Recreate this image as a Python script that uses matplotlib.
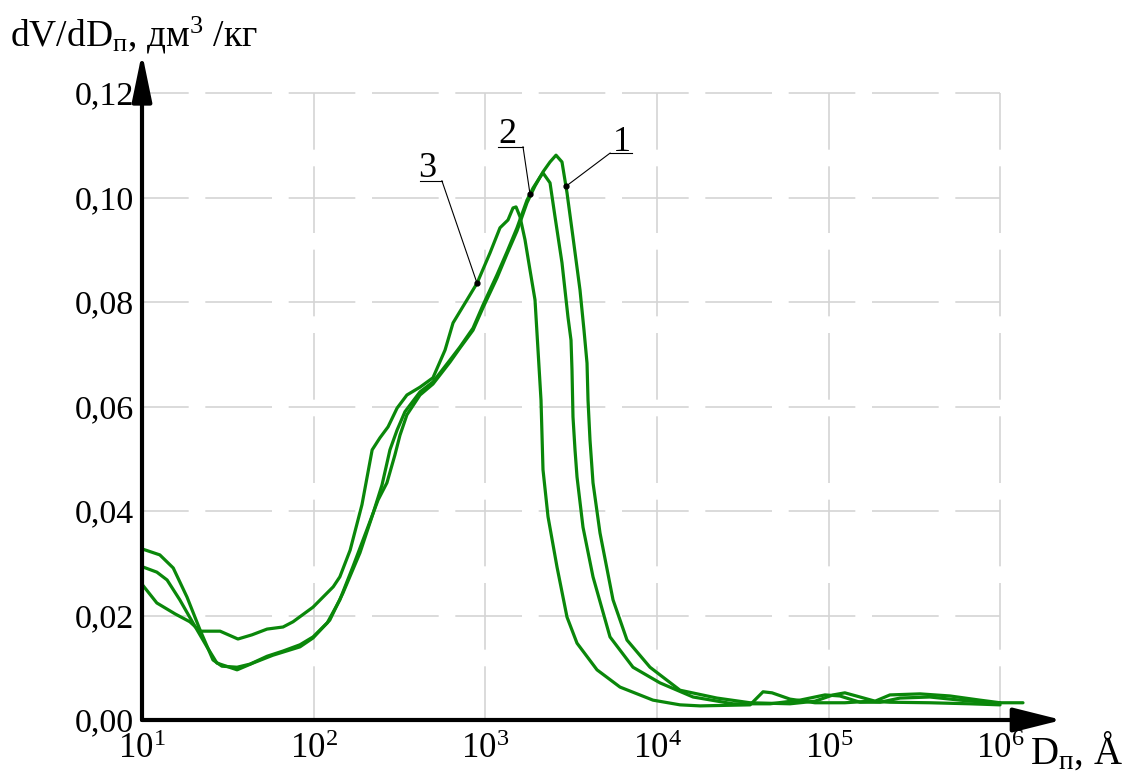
import matplotlib
matplotlib.use("Agg")
import matplotlib.pyplot as plt
import numpy as np

plt.rcParams["font.family"] = ["Liberation Serif", "DejaVu Serif"]
plt.rcParams["mathtext.fontset"] = "custom"
plt.rcParams["mathtext.rm"] = "Liberation Serif"
plt.rcParams["mathtext.it"] = "Liberation Serif:italic"
plt.rcParams["mathtext.bf"] = "Liberation Serif:bold"

# pore diameter, Å  /  dV/dD, dm3/kg
d_1 = [10.1, 12.7, 15.2, 18.3, 21.8, 25.9, 29.2, 35.8, 42.6, 53.5, 66.3, 83.2,
       99.1, 120, 142, 169, 204, 237, 267, 297, 318, 349, 416, 495, 622, 711,
       847, 968, 1168, 1336, 1528, 1747, 1945, 2165, 2379, 2578, 2793, 2987,
       3237, 3556, 3752, 3907, 3960, 4066, 4234, 4650, 5537, 6679, 9091, 13600,
       22300, 34800, 59400, 83100, 106000, 124000, 152000, 186000, 227000,
       340000, 508000, 760000, 994000]
v_1 = [0.0327, 0.0316, 0.0291, 0.0235, 0.0172, 0.0115, 0.0103, 0.0101, 0.0107,
       0.0122, 0.0132, 0.0144, 0.0159, 0.0186, 0.0230, 0.0293, 0.0364, 0.0421,
       0.0454, 0.0507, 0.0545, 0.0584, 0.0622, 0.0643, 0.0685, 0.0712, 0.0746,
       0.0789, 0.0846, 0.0892, 0.0936, 0.0990, 0.1022, 0.1049, 0.1068, 0.1081,
       0.1068, 0.1009, 0.0924, 0.0823, 0.0746, 0.0683, 0.0612, 0.0536, 0.0454,
       0.0358, 0.0230, 0.0153, 0.0101, 0.0057, 0.0042, 0.0033, 0.0031, 0.0036,
       0.0048, 0.0052, 0.0044, 0.0036, 0.0048, 0.0050, 0.0046, 0.0038, 0.0033]

d_2 = [10.1, 12.2, 14.0, 16.6, 19.8, 23.9, 27.3, 35.8, 44.3, 57.9, 83.2, 99.1,
       124, 148, 186, 222, 250, 278, 306, 340, 416, 495, 622, 711, 847, 968,
       1168, 1336, 1528, 1747, 1894, 2080, 2165, 2379, 2544, 2793, 3027, 3152,
       3194, 3237, 3326, 3417, 3702, 4234, 5318, 7237, 10400, 16200, 27700,
       45500, 67900, 95000, 116000, 152000, 199000, 260000, 388000, 581000,
       869000, 1352000]
v_2 = [0.0293, 0.0283, 0.0268, 0.0230, 0.0186, 0.0140, 0.0109, 0.0096, 0.0109,
       0.0124, 0.0140, 0.0157, 0.0191, 0.0243, 0.0320, 0.0396, 0.0450, 0.0517,
       0.0555, 0.0590, 0.0628, 0.0647, 0.0689, 0.0714, 0.0750, 0.0794, 0.0852,
       0.0896, 0.0942, 0.0995, 0.1018, 0.1039, 0.1047, 0.1028, 0.0963, 0.0875,
       0.0771, 0.0727, 0.0670, 0.0580, 0.0517, 0.0465, 0.0369, 0.0274, 0.0159,
       0.0101, 0.0071, 0.0044, 0.0031, 0.0031, 0.0038, 0.0048, 0.0046, 0.0034,
       0.0034, 0.0042, 0.0044, 0.0038, 0.0033, 0.0033]

d_3 = [10.1, 12.2, 15.6, 19.0, 21.8, 28.5, 36.2, 43.7, 53.5, 66.3, 75.8, 99.1,
       130, 142, 163, 191, 219, 243, 271, 306, 349, 416, 495, 582, 648, 781,
       894, 1064, 1216, 1354, 1448, 1508, 1591, 1701, 1819, 1945, 2025, 2108,
       2165, 2316, 2612, 2987, 3417, 4467, 6081, 9465, 13600, 17800, 34800,
       41400, 46700, 59400, 83100, 124000, 174000, 227000, 388000, 664000,
       994000]
v_3 = [0.0258, 0.0224, 0.0203, 0.0188, 0.0170, 0.0170, 0.0155, 0.0163, 0.0174,
       0.0178, 0.0188, 0.0216, 0.0255, 0.0274, 0.0325, 0.0412, 0.0517, 0.0540,
       0.0561, 0.0597, 0.0622, 0.0637, 0.0655, 0.0708, 0.0760, 0.0804, 0.0836,
       0.0894, 0.0942, 0.0957, 0.0980, 0.0982, 0.0963, 0.0919, 0.0861, 0.0804,
       0.0708, 0.0612, 0.0479, 0.0389, 0.0293, 0.0197, 0.0147, 0.0096, 0.0063,
       0.0038, 0.0029, 0.0027, 0.0029, 0.0054, 0.0052, 0.0040, 0.0033, 0.0033,
       0.0036, 0.0034, 0.0033, 0.0031, 0.0029]

y_ticks = [0.00, 0.02, 0.04, 0.06, 0.08, 0.10, 0.12]
y_tick_labels = ["0,00", "0,02", "0,04", "0,06", "0,08", "0,10", "0,12"]
x_ticks = [1e1, 1e2, 1e3, 1e4, 1e5, 1e6]
x_tick_labels = [r"$\mathregular{10^{%d}}$" % p for p in range(1, 7)]

# curve callouts: label, text position, underline ends, point on curve
callouts = [
    ("1", (6250, 0.1089), (5325, 7140), 0.1085, 2945, "right"),
    ("2", (1337, 0.1104), (1183, 1656), 0.1097, 1819, "left"),
    ("3", (457, 0.1040), (416, 558), 0.1032, 894, "left"),
]

green = "#0a870a"

fig = plt.figure(figsize=(11.42, 7.73), dpi=100)
ax = fig.add_axes([142 / 1142, 53 / 773, 920 / 1142, 667 / 773])
ax.set_xscale("log")
ax.set_xlim(10, 10 ** (1 + 920 / 171.7))
ax.set_ylim(0, 0.12 * 667 / 627)

for s in ax.spines.values():
    s.set_visible(False)

# dashed grid, only within 10..10^6 and 0..0.12
grid_kw = dict(color="#d4d4d4", lw=1.2, zorder=1)
ax.hlines(y_ticks[1:], 10, 1e6, linestyles=[(12, (40, 10))], **grid_kw)
ax.vlines(x_ticks[1:], 0.12, 0, linestyles=[(6, (40, 10))], **grid_kw)

curves = {"1": (d_1, v_1), "2": (d_2, v_2), "3": (d_3, v_3)}
for d, v in curves.values():
    ax.plot(d, v, color=green, lw=2.3, solid_joinstyle="round",
            solid_capstyle="round", zorder=3)

# axes with arrow heads
arrow_kw = dict(xycoords="axes fraction", textcoords="axes fraction",
                annotation_clip=False)
ax.annotate("", xy=(1, 0), xytext=(0, 0), **arrow_kw,
            arrowprops=dict(arrowstyle="-|>,head_length=30,head_width=7.5",
                            mutation_scale=1, lw=3, color="black",
                            shrinkA=0, shrinkB=0))
ax.annotate("", xy=(0, 1), xytext=(0, 0), **arrow_kw,
            arrowprops=dict(arrowstyle="-|>,head_length=29,head_width=6",
                            mutation_scale=1, lw=3, color="black",
                            shrinkA=0, shrinkB=0))

ax.set_yticks(y_ticks)
ax.set_yticklabels(y_tick_labels)
ax.set_xticks(x_ticks)
ax.set_xticklabels(x_tick_labels)
ax.minorticks_off()
ax.tick_params(axis="y", length=0, pad=6, labelsize=24.5)
ax.tick_params(axis="x", length=0, pad=9, labelsize=25)

for name, (tx, ty), (ux0, ux1), uy, dot_x, side in callouts:
    dx, dv = curves[name]
    peak = int(np.argmax(dv))
    # 1 is marked on its falling side, 2 and 3 on the rising side
    part = slice(peak, None) if name == "1" else slice(None, peak + 1)
    xs = np.log10(np.array(dx)[part])
    ys = np.array(dv)[part]
    order = np.argsort(xs)
    dot_y = np.interp(np.log10(dot_x), xs[order], ys[order])
    start = ux1 if side == "left" else ux0
    ax.plot([ux0, ux1], [uy, uy], color="black", lw=0.8, zorder=4)
    ax.plot([start, dot_x], [uy, dot_y], color="black", lw=0.8, zorder=4)
    ax.plot(dot_x, dot_y, "o", color="black", ms=3.5, zorder=5)
    ax.text(tx, ty, name, ha="center", va="baseline", fontsize=26)

fig.text(10 / 1142, 1 - 47 / 773,
         r"dV/dD$_{\mathregular{п}}$, дм$^{\mathregular{3}}$ /кг",
         ha="left", va="baseline", fontsize=27)
fig.text(1030 / 1142, 1 - 764 / 773, r"D$_{\mathregular{п}}$, Å",
         ha="left", va="baseline", fontsize=28)

fig.savefig("out.png", dpi=100)
